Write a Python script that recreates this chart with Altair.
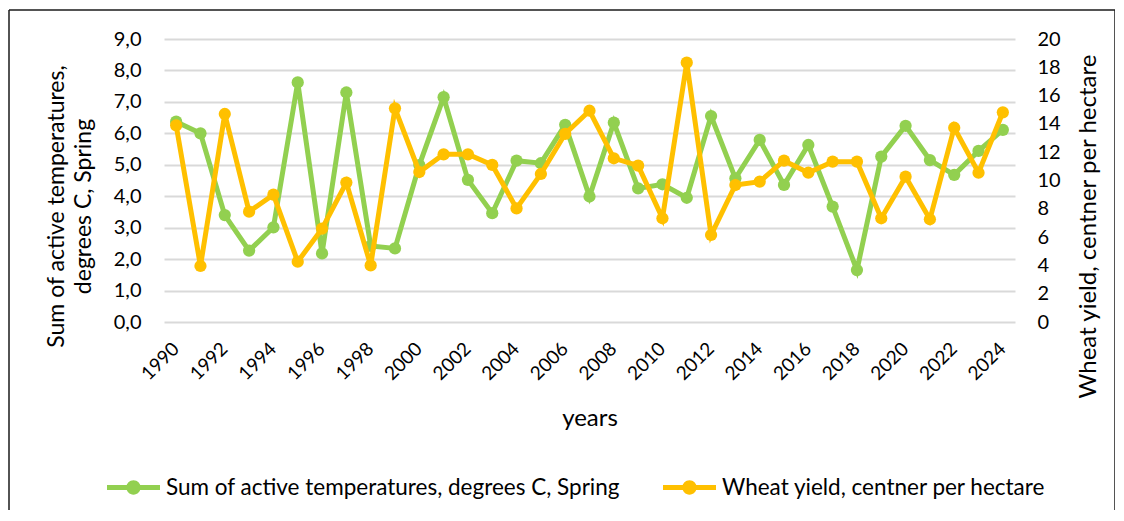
import altair as alt
import pandas as pd

years = list(range(1990, 2025))
temp = [6.37, 6.0, 3.4, 2.27, 3.01, 7.62, 2.18, 7.3, 2.42, 2.34,
        4.99, 7.15, 4.52, 3.46, 5.13, 5.05, 6.27, 3.99, 6.34, 4.25,
        4.38, 3.95, 6.55, 4.57, 5.79, 4.36, 5.63, 3.67, 1.65, 5.26,
        6.24, 5.15, 4.68, 5.44, 6.11]
yld = [13.9, 3.96, 14.7, 7.8, 9.0, 4.26, 6.6, 9.85, 4.0, 15.1,
       10.6, 11.85, 11.85, 11.1, 8.03, 10.46, 13.3, 14.93, 11.57, 11.05,
       7.33, 18.33, 6.15, 9.68, 9.92, 11.4, 10.55, 11.33, 11.33, 7.33,
       10.27, 7.26, 13.73, 10.55, 14.82]
series_names = ["Sum of active temperatures, degrees C, Spring",
                "Wheat yield, centner per hectare"]
colors = ["#92D050", "#FFC000"]
left_ticks = [0, 1, 2, 3, 4, 5, 6, 7, 8, 9]
right_ticks = [0, 2, 4, 6, 8, 10, 12, 14, 16, 18, 20]
x_label_years = [y for y in years if y % 2 == 0]

FONT = "Lato"
W, H = 851, 283

df_t = pd.DataFrame({"year": years, "value": temp, "series": series_names[0]})
df_y = pd.DataFrame({"year": years, "value": yld, "series": series_names[1]})

xenc = alt.X("year:O", scale=alt.Scale(padding=0.5),
             axis=alt.Axis(values=x_label_years, labelAngle=-45, title="years",
                           ticks=False, domain=False, grid=False,
                           labelPadding=17, labelOffset=-7, labelFontSize=19,
                           titleY=103, titleBaseline="alphabetic", titleFontSize=24))

color_scale = alt.Scale(domain=series_names, range=colors)
legend = alt.Legend(title=None, orient="none", direction="horizontal",
                    legendX=-57, legendY=422,
                    symbolType="M-1,-0.095L1,-0.095L1,0.095L-1,0.095Z M-0.27,0A0.27,0.27,0,1,1,0.27,0A0.27,0.27,0,1,1,-0.27,0Z",
                    symbolSize=2809, symbolStrokeWidth=0, symbolOpacity=1,
                    labelFontSize=22.5, labelFont=FONT, labelColor="#000000",
                    labelOffset=6, columnPadding=43, labelLimit=700)

yL = alt.Y("value:Q", scale=alt.Scale(domain=[0, 9], nice=False),
           axis=alt.Axis(values=left_ticks, labelExpr="replace(format(datum.value, '.1f'), '.', ',')",
                         title=["Sum of active temperatures,", "degrees C, Spring"],
                         orient="left", ticks=False, domain=False, grid=True,
                         gridColor="#D9D9D9", gridWidth=1.8, labelPadding=23,
                         labelFontSize=20,
                         titleX=-119, titleY=167, titleBaseline="top", titleAlign="center",
                         titleAngle=270, titleLineHeight=27, titleFontSize=23))
yR = alt.Y("value:Q", scale=alt.Scale(domain=[0, 20], nice=False),
           axis=alt.Axis(values=right_ticks, format="d",
                         title="Wheat yield, centner per hectare",
                         orient="right", ticks=False, domain=False, grid=False,
                         labelPadding=22, labelFontSize=20,
                         titleX=61, titleY=187, titleBaseline="top",
                         titleAlign="center", titleAngle=270, titleFontSize=24))

base_t = alt.Chart(df_t)
line_t = base_t.mark_line(strokeWidth=5, color=colors[0]).encode(x=xenc, y=yL)
pts_t = base_t.mark_circle(size=150, opacity=1).encode(
    x=xenc, y=yL, color=alt.Color("series:N", scale=color_scale, legend=legend))
left = alt.layer(line_t, pts_t)

base_y = alt.Chart(df_y)
line_y = base_y.mark_line(strokeWidth=5, color=colors[1]).encode(x=xenc, y=yR)
pts_y = base_y.mark_circle(size=150, opacity=1).encode(
    x=xenc, y=yR, color=alt.Color("series:N", scale=color_scale, legend=legend))
right = alt.layer(line_y, pts_y)

frame_df = pd.DataFrame({"k": [0]})
frame = alt.Chart(frame_df)
top_rule = frame.mark_rule(color="#1a1a1a", strokeWidth=1.5).encode(
    x=alt.value(-155), x2=alt.value(951), y=alt.value(-29))
left_rule = frame.mark_rule(color="#1a1a1a", strokeWidth=1.5).encode(
    x=alt.value(-155), y=alt.value(-29), y2=alt.value(480))
right_rule = frame.mark_rule(color="#1a1a1a", strokeWidth=1.5).encode(
    x=alt.value(951), y=alt.value(-29), y2=alt.value(480))

chart = alt.layer(left, right, top_rule, left_rule, right_rule).resolve_scale(
    y="independent", color="shared"
).properties(
    width=W, height=H,
    autosize=alt.AutoSizeParams(type="none"),
    padding={"left": 156, "top": 31, "right": 100, "bottom": 188},
).configure_view(stroke=None).configure_axis(
    labelFont=FONT, titleFont=FONT,
    labelColor="#000000", titleColor="#000000", titleFontWeight="normal"
)

chart.save("out.html", embed_options={"renderer": "svg", "actions": False})
